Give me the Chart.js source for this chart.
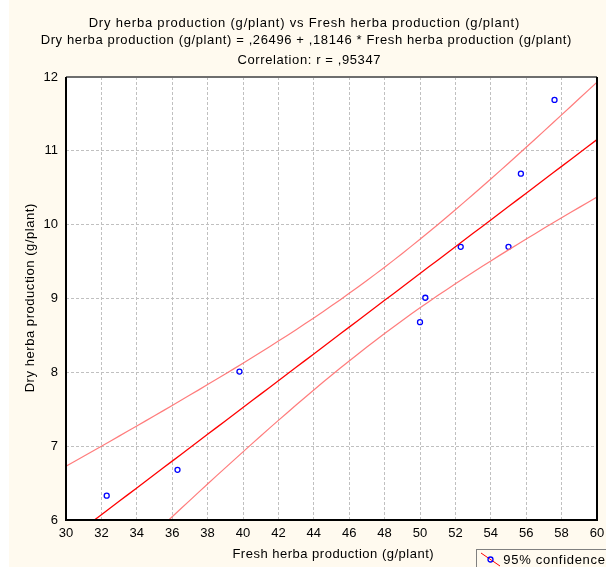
<!DOCTYPE html>
<html>
<head>
<meta charset="utf-8">
<script src="https://cdn.jsdelivr.net/npm/chart.js@4"></script>
<style>
  html, body { margin: 0; padding: 0; background: #fff; }
  canvas { display: block; }
</style>
</head>
<body>
<canvas id="chart" width="606" height="567"></canvas>
<script>
const freshHerba = [32.3, 36.3, 39.8, 50.0, 50.3, 52.3, 55.0, 55.7, 57.6];
const dryHerba = [6.33, 6.68, 8.01, 8.68, 9.01, 9.70, 9.70, 10.69, 11.69];

// Regression from the chart title
const intercept = 0.26496;
const slope = 0.18146;

// Axis ticks
const xTicks = [30, 32, 34, 36, 38, 40, 42, 44, 46, 48, 50, 52, 54, 56, 58, 60];
const yTicks = [6, 7, 8, 9, 10, 11, 12];

const titleLines = [
    'Dry herba production (g/plant) vs Fresh herba production (g/plant)',
    'Dry herba production (g/plant) = ,26496 + ,18146 * Fresh herba production (g/plant)',
    'Correlation: r = ,95347'
];
const xTitle = 'Fresh herba production (g/plant)';
const yTitle = 'Dry herba production (g/plant)';
const legendText = '95% confidence';

const FONT = '"Liberation Sans", Arial, sans-serif';

// Fitted line and 95% confidence band for the mean, from the data
function buildBands() {
    const n = freshHerba.length;
    const xbar = freshHerba.reduce((a, b) => a + b, 0) / n;
    const sxx = freshHerba.reduce((a, x) => a + (x - xbar) ** 2, 0);
    const sse = freshHerba.reduce((a, x, i) => a + (dryHerba[i] - (intercept + slope * x)) ** 2, 0);
    const s = Math.sqrt(sse / (n - 2));
    const t = 2.3646; // t(0.975, 7)
    let fit = [], upper = [], lower = [];
    for (let x = xTicks[0]; x <= xTicks[xTicks.length - 1]; x += 0.5) {
        const yhat = intercept + slope * x;
        const h = t * s * Math.sqrt(1 / n + (x - xbar) ** 2 / sxx);
        fit.push({x: x, y: yhat});
        upper.push({x: x, y: yhat + h});
        lower.push({x: x, y: yhat - h});
    }
    return {fit, upper, lower};
}

const bands = buildBands();

// text with extra spacing, like the old GDI rendering
function spacedText(ctx, text, x, y, spacing) {
    ctx.letterSpacing = spacing + 'px';
    ctx.fillText(text, x + spacing / 2, y);
    ctx.letterSpacing = '0px';
}

// Background, titles, axis titles, frame and legend
const decorPlugin = {
    id: 'decor',
    beforeDraw(chart) {
        const ctx = chart.ctx;
        const a = chart.chartArea;
        ctx.save();
        ctx.fillStyle = '#fffaef';
        ctx.fillRect(0, 0, chart.width, chart.height);
        ctx.fillStyle = '#ffffff';
        ctx.fillRect(0, 0, 9, chart.height);
        ctx.fillRect(a.left, a.top, a.right - a.left, a.bottom - a.top);
        ctx.restore();
    },
    afterDraw(chart) {
        const ctx = chart.ctx;
        const a = chart.chartArea;
        ctx.save();
        ctx.fillStyle = '#000';
        ctx.textAlign = 'center';
        ctx.textBaseline = 'middle';
        ctx.font = '13px ' + FONT;
        spacedText(ctx, titleLines[0], 304, 23, 0.8);
        spacedText(ctx, titleLines[1], 306, 40, 0.62);
        spacedText(ctx, titleLines[2], 309, 60, 0.6);

        spacedText(ctx, xTitle, 333, 554, 0.5);
        ctx.translate(30, 298);
        ctx.rotate(-Math.PI / 2);
        spacedText(ctx, yTitle, 0, 0, 0.55);
        ctx.restore();

        // plot frame
        ctx.save();
        ctx.lineWidth = 2;
        ctx.strokeStyle = '#6e6e6e';
        ctx.beginPath();
        ctx.moveTo(a.left, a.top);
        ctx.lineTo(a.right, a.top);
        ctx.stroke();
        ctx.strokeStyle = '#000';
        ctx.beginPath();
        ctx.moveTo(a.right, a.top);
        ctx.lineTo(a.right, a.bottom);
        ctx.lineTo(a.left, a.bottom);
        ctx.lineTo(a.left, a.top);
        ctx.stroke();
        ctx.restore();

        // legend box, cut by the right edge
        ctx.save();
        ctx.fillStyle = '#fffaef';
        ctx.fillRect(476, 549, 140, 20);
        ctx.strokeStyle = '#808080';
        ctx.lineWidth = 1;
        ctx.strokeRect(476.5, 549.5, 140, 20);
        ctx.strokeStyle = '#ff0000';
        ctx.beginPath();
        ctx.moveTo(481, 553);
        ctx.lineTo(500, 566);
        ctx.stroke();
        ctx.strokeStyle = '#0000ff';
        ctx.lineWidth = 1.3;
        ctx.beginPath();
        ctx.arc(490.5, 559.5, 2.5, 0, Math.PI * 2);
        ctx.stroke();
        ctx.fillStyle = '#000';
        ctx.font = '13px ' + FONT;
        ctx.textAlign = 'left';
        ctx.textBaseline = 'middle';
        spacedText(ctx, legendText, 503, 560, 0.7);
        ctx.restore();
    }
};

const ctx = document.getElementById('chart').getContext('2d');
new Chart(ctx, {
    type: 'scatter',
    data: {
        datasets: [
            {
                label: 'upper',
                type: 'line',
                data: bands.upper,
                borderColor: 'rgba(255, 110, 110, 0.9)',
                borderWidth: 1.2,
                pointRadius: 0,
                fill: false
            },
            {
                label: 'lower',
                type: 'line',
                data: bands.lower,
                borderColor: 'rgba(255, 110, 110, 0.9)',
                borderWidth: 1.2,
                pointRadius: 0,
                fill: false
            },
            {
                label: 'fit',
                type: 'line',
                data: bands.fit,
                borderColor: '#ff0000',
                borderWidth: 1.3,
                pointRadius: 0,
                fill: false
            },
            {
                label: 'points',
                data: freshHerba.map((x, i) => ({x: x, y: dryHerba[i]})),
                pointStyle: 'circle',
                pointRadius: 2.5,
                pointBorderWidth: 1.3,
                pointBorderColor: '#0000ff',
                pointBackgroundColor: 'rgba(0,0,0,0)'
            }
        ]
    },
    options: {
        responsive: false,
        animation: false,
        events: [],
        layout: { padding: { top: 77, right: 9, left: 0, bottom: 0 } },
        plugins: {
            legend: { display: false },
            tooltip: { enabled: false },
            title: { display: false }
        },
        scales: {
            x: {
                type: 'linear',
                min: xTicks[0],
                max: xTicks[xTicks.length - 1],
                afterBuildTicks: scale => { scale.ticks = xTicks.map(v => ({value: v})); },
                afterFit: scale => {
                    scale.height = 47;
                    scale.paddingRight = 0;
                    scale.paddingLeft = 0;
                },
                grid: {
                    color: '#c0c0c0',
                    drawTicks: false
                },
                border: { display: false, dash: [3, 2] },
                ticks: {
                    color: '#000',
                    font: { family: FONT, size: 13 },
                    padding: 6,
                    maxRotation: 0,
                    autoSkip: false
                }
            },
            y: {
                type: 'linear',
                min: yTicks[0],
                max: yTicks[yTicks.length - 1],
                afterBuildTicks: scale => { scale.ticks = yTicks.map(v => ({value: v})); },
                afterFit: scale => { scale.width = 66; },
                grid: {
                    color: '#c0c0c0',
                    drawTicks: false
                },
                border: { display: false, dash: [3, 2] },
                ticks: {
                    color: '#000',
                    font: { family: FONT, size: 13 },
                    padding: 8
                }
            }
        }
    },
    plugins: [decorPlugin]
});
</script>
</body>
</html>
